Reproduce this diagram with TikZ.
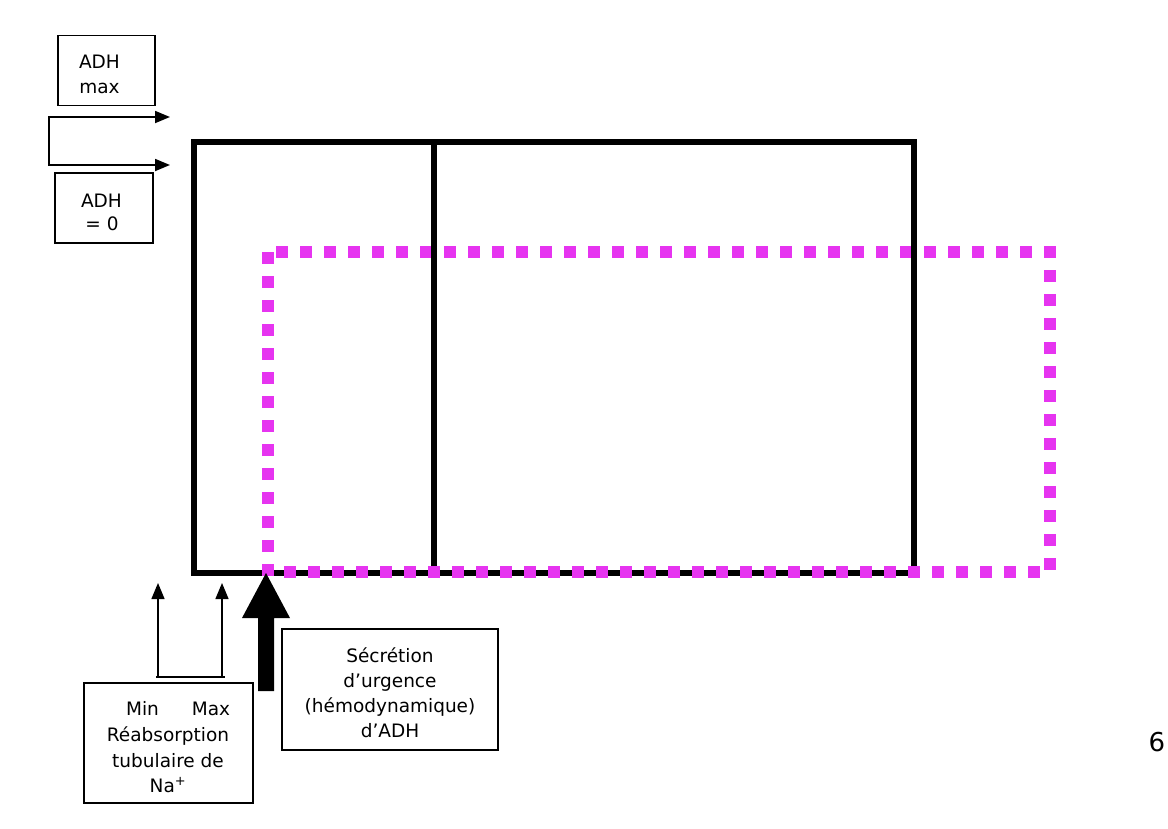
\documentclass[tikz,border=0pt]{standalone}
\usepackage{fontspec}
\setmainfont{DejaVu Sans}
\usetikzlibrary{arrows.meta}
\definecolor{mag}{RGB}{230,52,240}
\begin{document}
\begin{tikzpicture}[x=1pt,y=-1pt,
  box/.style={draw, line width=1.4pt, inner sep=0pt},
  txt/.style={inner sep=0pt, anchor=base, font=\fontsize{18.5}{22}\selectfont},
  frame/.style={line width=6pt},
  magdot/.style={draw=mag, line width=12pt, dash pattern=on 12pt off 12pt},
  conn/.style={line width=1.8pt},
  thin/.style={line width=1.4pt},
  tipAA/.style={{Triangle[length=15pt,width=12pt]}-{Triangle[length=15pt,width=12pt]}}]
\useasboundingbox (0,0) rectangle (1168,828);

% main black frame
\coordinate (tl) at (194,142);
\coordinate (br) at (914,573);
\draw[frame] (tl) rectangle (br);

% magenta dotted rectangle
\coordinate (m1) at (276,252);  \coordinate (m2) at (1056,252);
\coordinate (m3) at (1050,270); \coordinate (m4) at (1050,570);
\coordinate (m5) at (284,572);  \coordinate (m6) at (1040,572);
\coordinate (m7) at (268,252);  \coordinate (m8) at (268,576);
\draw[magdot] (m1) -- (m2);
\draw[magdot] (m3) -- (m4);
\draw[magdot] (m5) -- (m6);
\draw[magdot] (m7) -- (m8);

% black verticals over the magenta top edge
\coordinate (v1t) at (434,142); \coordinate (v1b) at (434,572);
\coordinate (v2t) at (914,142); \coordinate (v2b) at (914,568);
\draw[line width=5.5pt] (v1t) -- (v1b);
\draw[frame] (v2t) -- (v2b);
% bottom magenta squares over the black verticals
\coordinate (q1) at (428,572); \coordinate (q2) at (440,572);
\coordinate (q3) at (908,572); \coordinate (q4) at (920,572);
\draw[draw=mag, line width=12pt] (q1) -- (q2);
\draw[draw=mag, line width=12pt] (q3) -- (q4);

% ADH boxes
\node[box, minimum width=97pt, minimum height=70pt] (adhmax) at (106.5,70.5) {};
\node[txt] (t1) at (99.5,68) {ADH};
\node[txt] (t2) at (99.5,93) {max};
\node[box, minimum width=98pt, minimum height=70pt] (adh0) at (104,208) {};
\node[txt] (t3) at (101.5,207) {ADH};
\node[txt] (t4) at (102,230) {= 0};

% loop connector with two arrows
\coordinate (a1) at (170,117);
\coordinate (a2) at (49,117);
\coordinate (a3) at (49,165);
\coordinate (a4) at (170,165);
\draw[conn, tipAA] (a1) -- (a2) -- (a3) -- (a4);

% Min / Max arrows
\coordinate (mn0) at (158,677); \coordinate (mn1) at (158,583);
\coordinate (mx0) at (222,677); \coordinate (mx1) at (222,583);
\coordinate (hl) at (156,677);  \coordinate (hr) at (225,677);
\draw[thin, -{Triangle[length=16pt,width=13pt]}] (mn0) -- (mn1);
\draw[thin, -{Triangle[length=16pt,width=13pt]}] (mx0) -- (mx1);
\draw[thin] (hl) -- (hr);

\node[box, minimum width=169pt, minimum height=120pt] (reab) at (168.5,743) {};
\node[txt] (l1) at (142.5,715) {Min};
\node[txt] (l2) at (211,715) {Max};
\node[txt] (l3) at (168,741) {Réabsorption};
\node[txt] (l4) at (168,767) {tubulaire de};
\node[txt] (l5) at (168,792) {Na\textsuperscript{+}};

% big arrow
\fill (258,691) -- (258,618) -- (242,618) -- (266,573) -- (290,618) -- (274,618) -- (274,691) -- cycle;

\node[box, minimum width=216pt, minimum height=121pt] (secr) at (390,689.5) {};
\node[txt] (s1) at (390,662) {Sécrétion};
\node[txt] (s2) at (390,687) {d’urgence};
\node[txt] (s3) at (390,712.5) {(hémodynamique)};
\node[txt] (s4) at (390,737.5) {d’ADH};

\node[inner sep=0pt, font=\fontsize{26}{30}\selectfont] (pg) at (1157,742) {6};
\end{tikzpicture}
\end{document}
